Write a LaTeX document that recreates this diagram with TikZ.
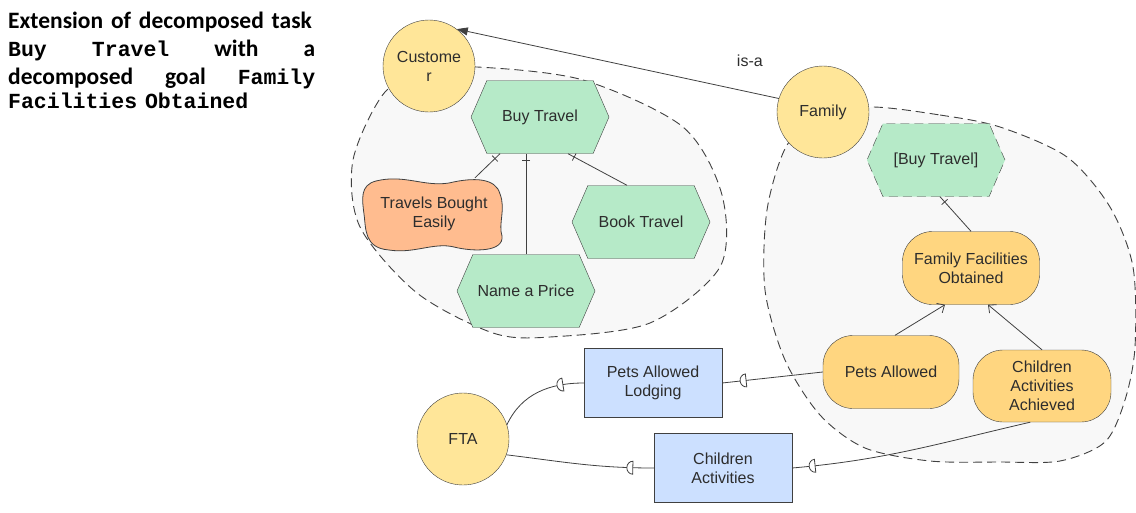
\documentclass[tikz,border=0pt]{standalone}
\usepackage{fontspec}
\setmainfont{Liberation Sans}
\setmonofont{Liberation Mono}
\newfontfamily\carlito{Carlito}
\usepackage{tikz}
\usetikzlibrary{arrows.meta,shapes.symbols,decorations.markings}
\definecolor{actorfill}{RGB}{255,230,153}
\definecolor{taskfill}{RGB}{182,234,200}
\definecolor{softfill}{RGB}{255,188,143}
\definecolor{goalfill}{RGB}{255,214,128}
\definecolor{resfill}{RGB}{204,224,255}
\definecolor{boundfill}{RGB}{248,248,248}
\definecolor{linegray}{RGB}{64,64,64}
\definecolor{textgray}{RGB}{45,45,45}
\newcommand{\tcode}[1]{{\ttfamily\bfseries\fontsize{21.5}{28}\selectfont #1}}

\begin{document}
\begin{tikzpicture}[x=1pt,y=-1pt,
    font=\fontsize{16}{19}\selectfont,
    actor/.style={circle,draw=linegray,fill=actorfill,minimum size=92pt,inner sep=0pt,
      align=center,text=textgray},
    task/.style={shape=signal,signal to=west and east,signal pointer angle=133,
      draw=linegray,fill=taskfill,minimum width=138pt,minimum height=73pt,inner sep=0pt,
      align=center,text=textgray},
    goal/.style={rectangle,rounded corners=30pt,draw=linegray,fill=goalfill,
      minimum width=137pt,minimum height=73pt,inner sep=0pt,align=center,text=textgray},
    res/.style={rectangle,draw=linegray,fill=resfill,minimum width=138pt,
      minimum height=69pt,inner sep=0pt,align=center,text=textgray},
    boundary/.style={fill=boundfill,draw=black!75,dash pattern=on 9pt off 5pt,line width=0.9pt},
    link/.style={draw=linegray,line width=0.8pt},
    tick/.style={link,decoration={markings,
      mark=at position -7pt with {\draw[linegray,line width=0.8pt] (0,-4pt) -- (0,4pt);}},
      postaction={decorate}},
    contrib/.style={link,-{Straight Barb[length=6pt,width=11pt]}},
    dep/.style={link,decoration={markings,
      mark=at position #1 with {\draw[linegray,line width=0.8pt,fill=white] (0,6.5pt)
        arc[start angle=90,end angle=-90,x radius=6pt,y radius=6.5pt] -- cycle;}},
      postaction={decorate}}]
  \useasboundingbox (0,0) rectangle (1136,512);

  % caption
  \node[anchor=north west,inner sep=0pt,text width=307pt,align=left,
    font=\carlito\bfseries\fontsize{23.5}{28}\selectfont] (caption)
    at (8,12) {Extension of decomposed task\\
    \tcode{Buy}\hfill\tcode{Travel}\hfill with\hfill a\\
    decomposed\hfill goal\hfill\tcode{Family}\\[-4pt]
    \tcode{Facilities Obtained}};

  % actor boundaries
  \path[boundary] plot[smooth cycle] coordinates {(477,67) (583,80) (683,127) (722,195)
    (720,267) (650,323) (550,337) (493,333) (417,293) (360,227) (353,160) (385,92) (430,72)};
  \path[boundary] plot[smooth cycle] coordinates {(870,107) (940,115) (1000,127) (1067,157)
    (1110,207) (1133,267) (1135,347) (1125,400) (1105,442) (1060,461) (1000,462) (930,461)
    (865,448) (820,415) (785,360) (765,290) (767,210) (787,145) (822,118)};

  % actors
  \node[actor] (customer) at (429,66) {Custome\\r};
  \node[actor] (family) at (823,112) {Family};
  \node[actor] (fta) at (463,439) {FTA};

  % Customer
  \node[task] (buy) at (540,117) {Buy Travel};
  \node[task] (book) at (641,222) {Book Travel};
  \node[task] (price) at (526,291) {Name a Price};
  \node[minimum width=139pt,minimum height=72pt,inner sep=0pt,align=center,
    text=textgray] (easily) at (434,214) {};
  \draw[linegray,fill=softfill,line width=0.8pt,shift={(easily.center)}]
    (-58,-33) .. controls (-30,-40) and (-10,-27) .. (15,-31)
    .. controls (40,-37) and (62,-36) .. (66,-20)
    .. controls (72,-5) and (64,10) .. (68,22)
    .. controls (70,38) and (40,38) .. (20,33)
    .. controls (0,28) and (-20,40) .. (-45,36)
    .. controls (-70,34) and (-68,15) .. (-70,0)
    .. controls (-72,-15) and (-74,-29) .. (-58,-33) -- cycle;
  \node[text=textgray,align=center] at (easily.center) {Travels Bought\\Easily};

  % Family
  \node[task,dashed,dash pattern=on 9pt off 5pt] (bbuy) at (936,160) {[Buy Travel]};
  \node[goal] (obtained) at (971,268) {Family Facilities\\Obtained};
  \node[goal,minimum width=136pt] (pets) at (891,372) {Pets Allowed};
  \node[goal,minimum width=138pt,minimum height=72pt] (achieved) at (1042,386)
    {Children\\Activities\\Achieved};

  % dependums
  \node[res] (lodging) at (653,383) {Pets Allowed\\Lodging};
  \node[res] (activities) at (723,468) {Children\\Activities};

  % links
  \draw[link,-{Triangle[length=11pt,width=8pt]}] (family.163) -- (customer.53)
    node[pos=0.09,above=22pt,text=textgray] {is-a};
  \draw[tick] ([xshift=41pt]easily.north) -- ([xshift=-40pt]buy.south);
  \draw[tick] (price.north) -- (price.north |- buy.south);
  \draw[tick] ([xshift=-14pt]book.north) -- ([xshift=28pt]buy.south);
  \draw[tick] (obtained.north) -- ([xshift=4pt]bbuy.south);
  \draw[contrib] ([xshift=4pt]pets.north) -- ([xshift=-26pt]obtained.south);
  \draw[contrib] (achieved.north) -- ([xshift=17pt]obtained.south);
  \draw[dep=-24pt] (pets.west) -- (lodging.east);
  \draw[dep=21pt] (lodging.west) to[out=180,in=65] (fta.18);
  \draw[dep=-23pt] (achieved.252) to[out=193,in=5] (activities.east);
  \draw[dep=21pt] (activities.west) to[out=180,in=-7] (fta.-20);
\end{tikzpicture}
\end{document}
